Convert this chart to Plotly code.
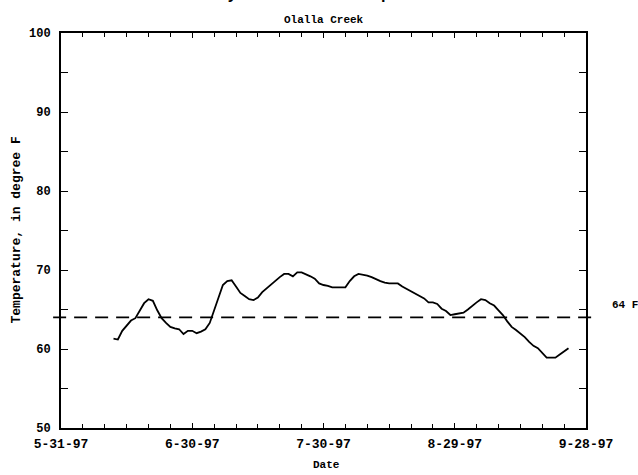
import plotly.graph_objects as go
import pandas as pd

# Daily mean water temperature, Olalla Creek, starting 1997-06-12
start_date = "1997-06-12"
temps_f = [61.3, 61.2, 62.3, 62.9, 63.6, 63.9, 64.9, 65.8, 66.3, 66.1,
           64.9, 63.9, 63.3, 62.8, 62.6, 62.5, 61.9, 62.3, 62.3, 62.0,
           62.2, 62.5, 63.3, 64.9, 66.6, 68.1, 68.6, 68.7, 67.9, 67.1,
           66.7, 66.3, 66.2, 66.5, 67.2, 67.7, 68.2, 68.6, 69.1, 69.5,
           69.5, 69.2, 69.7, 69.7, 69.5, 69.2, 68.9, 68.3, 68.1, 68.0,
           67.8, 67.8, 67.8, 67.8, 68.6, 69.2, 69.5, 69.4, 69.3, 69.1,
           68.8, 68.6, 68.4, 68.3, 68.3, 68.3, 67.9, 67.6, 67.3, 66.9,
           66.6, 66.4, 65.9, 65.9, 65.7, 65.1, 64.8, 64.3, 64.4, 64.5,
           64.6, 65.0, 65.5, 65.9, 66.3, 66.2, 65.8, 65.5, 64.9, 64.3,
           63.5, 62.8, 62.4, 62.0, 61.5, 60.9, 60.4, 60.1, 59.5, 58.9,
           58.9, 58.9, 59.3, 59.7, 60.1]
threshold_f = 64
x_range = ["1997-05-31", "1997-09-28"]
major_tick_dates = ["1997-05-31", "1997-06-30", "1997-07-30", "1997-08-29", "1997-09-28"]
major_tick_labels = ["5-31-97", "6-30-97", "7-30-97", "8-29-97", "9-28-97"]
y_tick_vals = [50, 55, 60, 65, 70, 75, 80, 85, 90, 95, 100]
y_tick_text = ["50", "", "60", "", "70", "", "80", "", "90", "", "100"]

dates = pd.date_range(start_date, periods=len(temps_f), freq="D")
minor_dates = pd.date_range(x_range[0], x_range[1], freq="5D")

FONT = "Liberation Mono"

fig = go.Figure()
fig.add_trace(go.Scatter(x=dates, y=temps_f, mode="lines",
                         line=dict(color="black", width=1.8),
                         showlegend=False, hoverinfo="skip"))

fig.add_shape(type="line", xref="paper", yref="y", x0=-0.015, x1=1.021,
              y0=threshold_f, y1=threshold_f,
              line=dict(color="black", width=1.6, dash="13px,8px"))

fig.update_layout(
    width=638, height=475,
    margin=dict(l=61, r=52, t=33, b=47),
    paper_bgcolor="white", plot_bgcolor="white",
    font=dict(family=FONT, color="black", size=12),
    xaxis=dict(type="date", range=x_range, tickmode="array",
               tickvals=major_tick_dates, ticktext=major_tick_labels,
               ticks="inside", ticklen=5, tickwidth=1.2, tickcolor="black",
               minor=dict(tickmode="array", tickvals=list(minor_dates),
                          ticks="inside", ticklen=4, tickwidth=1.2, tickcolor="black"),
               showline=True, linecolor="black", linewidth=1.8, mirror="ticks",
               showgrid=False, zeroline=False, ticklabelstandoff=2,
               tickfont=dict(family=FONT, size=13, color="black", weight="bold")),
    yaxis=dict(range=[50, 100], tickmode="array", tickvals=y_tick_vals, ticktext=y_tick_text,
               ticks="inside", ticklen=7, tickwidth=1.2, tickcolor="black",
               showline=True, linecolor="black", linewidth=1.8, mirror="ticks",
               showgrid=False, zeroline=False, ticklabelstandoff=6,
               tickfont=dict(family=FONT, size=12, color="black", weight="bold")),
)

fig.add_annotation(text="Daily Mean Water Temperature", xref="paper", yref="paper",
                   x=0.5, y=1.096, xanchor="center", yanchor="middle", showarrow=False,
                   font=dict(family=FONT, size=16, color="black", weight="bold"))
fig.add_annotation(text="Olalla Creek", xref="paper", yref="paper",
                   x=0.5, y=1.033, xanchor="center", yanchor="middle", showarrow=False,
                   font=dict(family=FONT, size=11, color="black", weight="bold"))
fig.add_annotation(text="Temperature, in degree F", xref="paper", yref="paper",
                   x=-0.0857, y=0.5, xanchor="center", yanchor="middle", textangle=-90,
                   showarrow=False,
                   font=dict(family=FONT, size=13, color="black", weight="bold"))
fig.add_annotation(text="Date", xref="paper", yref="paper",
                   x=0.506, y=-0.0937, xanchor="center", yanchor="middle", showarrow=False,
                   font=dict(family=FONT, size=11, color="black", weight="bold"))
fig.add_annotation(text=f"{threshold_f} F", xref="paper", yref="y",
                   x=1.046, y=65.6, xanchor="left", yanchor="middle", showarrow=False,
                   font=dict(family=FONT, size=11, color="black", weight="bold"))

fig.write_html("out.html")
